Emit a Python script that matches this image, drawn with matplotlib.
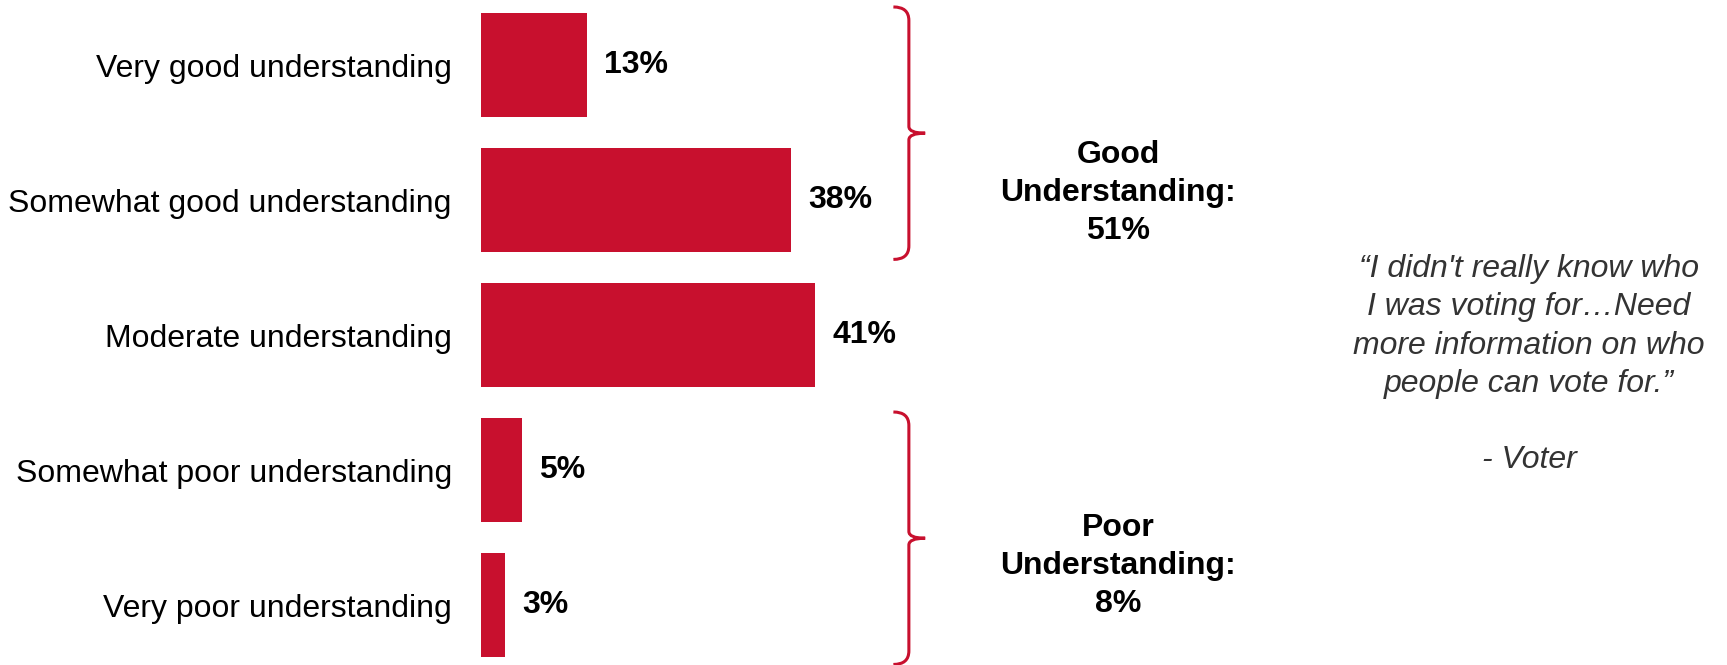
import matplotlib.pyplot as plt
from matplotlib.path import Path
from matplotlib.patches import PathPatch

plt.rcParams['font.family'] = ['Liberation Sans', 'DejaVu Sans']

# survey responses
categories = ['Very good understanding', 'Somewhat good understanding',
              'Moderate understanding', 'Somewhat poor understanding',
              'Very poor understanding']
values = [13, 38, 41, 5, 3]

# grouped totals (first index, last index, label)
groups = [(0, 1, 'Good\nUnderstanding:\n51%'),
          (3, 4, 'Poor\nUnderstanding:\n8%')]
group_text_y = [0.95, 3.71]

quote = ('\u201cI didn\'t really know who\nI was voting for\u2026Need\n'
         'more information on who\npeople can vote for.\u201d\n\n- Voter')

red = '#C8102E'

fig = plt.figure(figsize=(17.27, 6.65), dpi=100)
# bars start at x=481px, 8.15px per percentage point
ax = fig.add_axes([481 / 1727, 0, 1 - 481 / 1727, 1])
ax.set_xlim(0, (1727 - 481) / 8.15)
ax.set_ylim(4.444, -0.4815)

ypos = list(range(len(categories)))
ax.barh(ypos, values, height=0.77, color=red)

for y, v in zip(ypos, values):
    ax.text(v + 2.1, y, f'{v}%', va='center', ha='left',
            fontsize=23, fontweight='bold', color='black')

ax.set_yticks(ypos)
ax.set_yticklabels(categories, fontsize=23)
ax.tick_params(axis='y', length=0, pad=21)
ax.set_xticks([])
for s in ax.spines.values():
    s.set_visible(False)


def brace(ax, y_top, y_bot, x0, x1, x2, r_end, r_mid):
    ym = (y_top + y_bot) / 2
    verts = [(x0, y_top), (x1, y_top), (x1, y_top + r_end),
             (x1, ym - r_mid), (x1, ym), (x2, ym),
             (x1, ym), (x1, ym + r_mid),
             (x1, y_bot - r_end), (x1, y_bot), (x0, y_bot)]
    codes = [Path.MOVETO, Path.CURVE3, Path.CURVE3,
             Path.LINETO, Path.CURVE3, Path.CURVE3,
             Path.CURVE3, Path.CURVE3,
             Path.LINETO, Path.CURVE3, Path.CURVE3]
    ax.add_patch(PathPatch(Path(verts, codes), fill=False, edgecolor=red,
                           linewidth=2.2, clip_on=False, capstyle='butt'))


for (first, last, label), ty in zip(groups, group_text_y):
    brace(ax, first - 0.43, last + 0.44, 50.6, 52.5, 54.5, 0.1, 0.05)
    ax.text(78.2, ty, label, ha='center', va='center',
            fontsize=23, fontweight='bold', linespacing=1.34)

ax.text(128.6, 2.22, quote, ha='center', va='center', fontsize=23,
        style='italic', color='#333333', linespacing=1.36)

fig.savefig('out.png', dpi=100)
